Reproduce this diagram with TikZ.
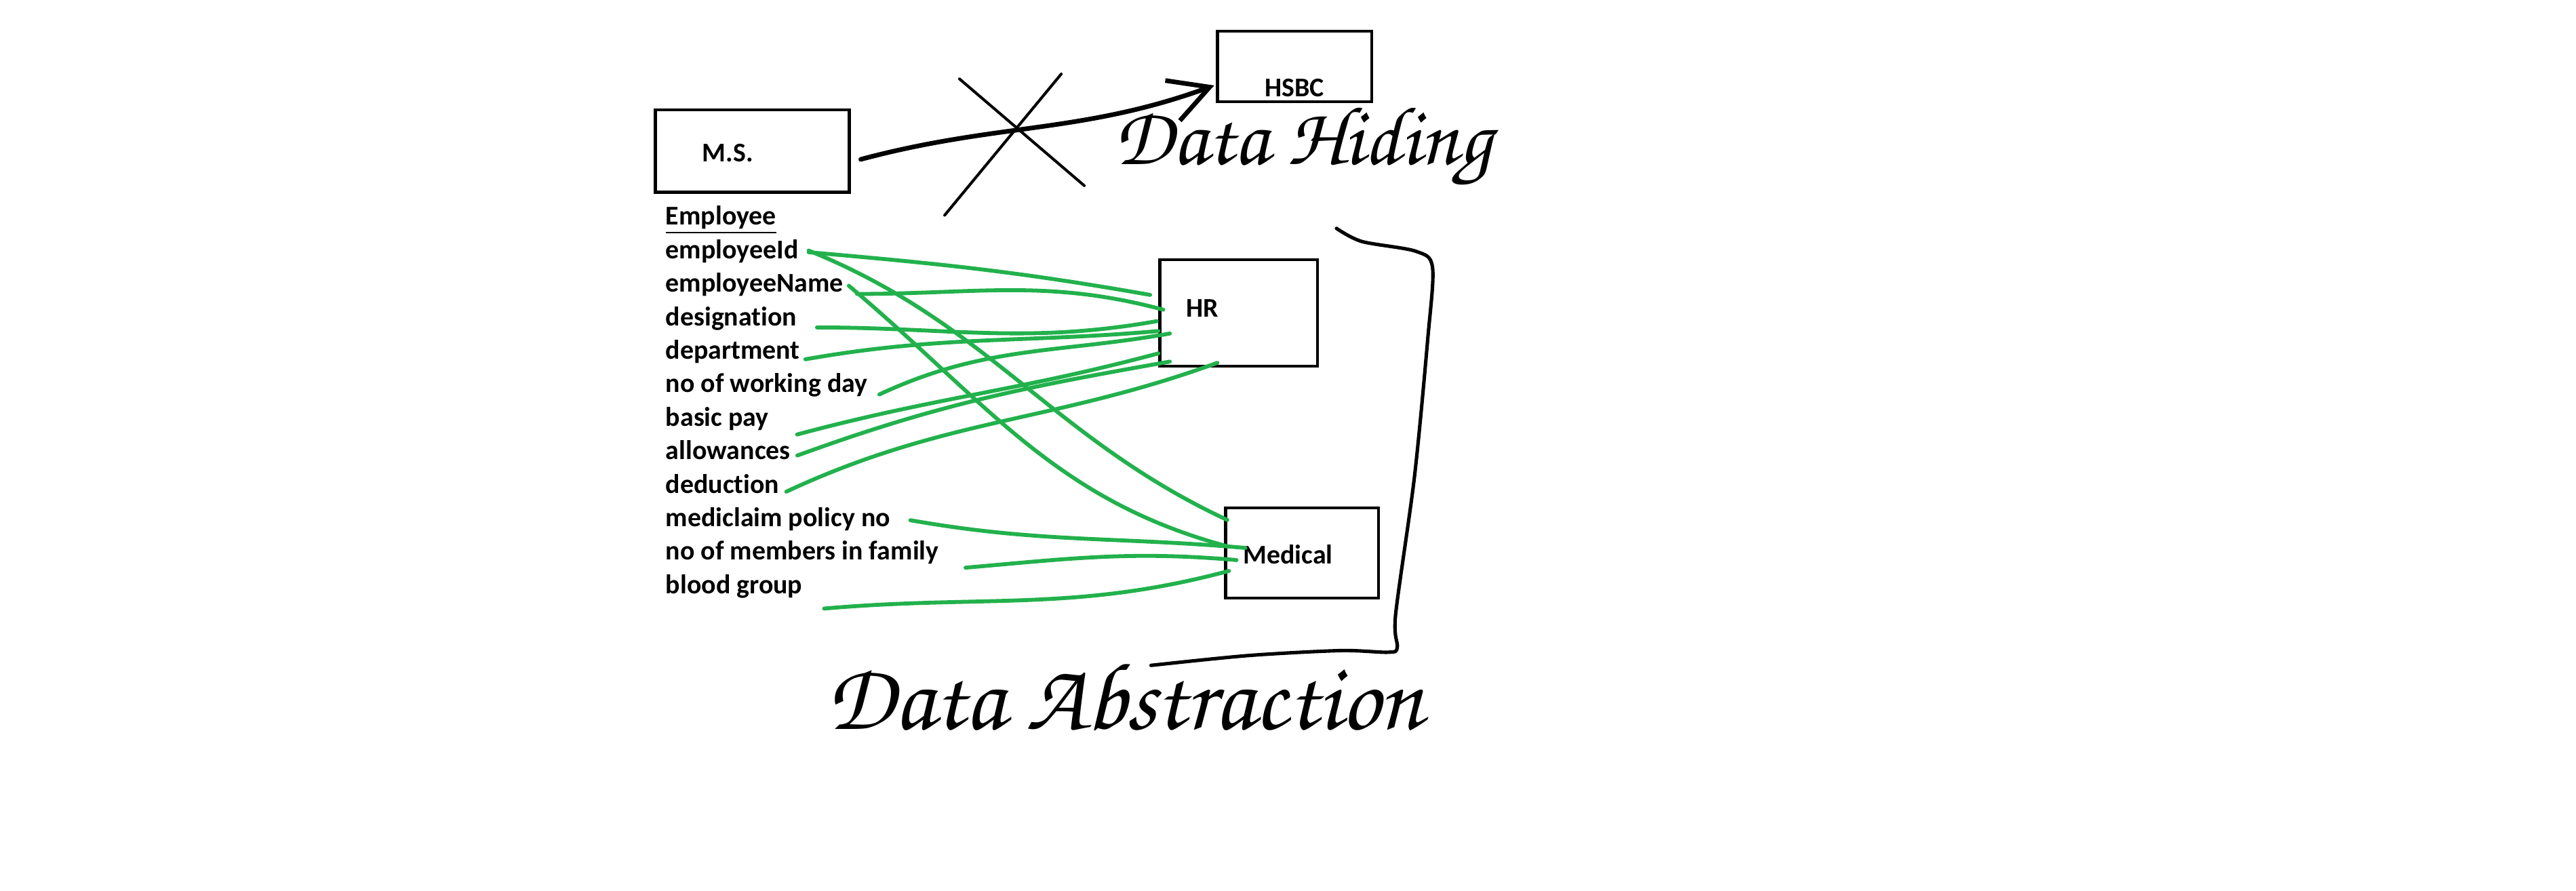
\documentclass[tikz,border=0pt]{standalone}
\usepackage{fontspec}
\setmainfont{Carlito}[BoldFont={Carlito Bold}, RawFeature=-liga]
\newfontfamily\handfont{texgyrechorus-mediumitalic.otf}
\usetikzlibrary{positioning,arrows.meta,calc}
\definecolor{paintgreen}{RGB}{34,177,76}

\begin{document}
\begin{tikzpicture}[
        x=0.025cm, y=-0.025cm,
        node distance=3.6pt,
        every node/.style={font=\fontsize{11.7}{14}\selectfont\bfseries},
        box/.style={draw, line width=1.3pt, inner sep=0pt},
        attr/.style={inner sep=0pt, text height=8pt, text depth=2.5pt},
        link/.style={paintgreen, line width=1.7pt, line cap=round},
        pen/.style={line width=1.5pt, line cap=round, line join=round},
        hand/.style={inner sep=0pt, anchor=base west, font=\handfont\fontsize{36}{40}\selectfont}
    ]
        \useasboundingbox (0,0) rectangle (1568,542);

        % Boxes: the banks and the departments
        \node[box, minimum width=2.35cm, text height=28.2pt, text depth=2.4pt] (hsbc) at (788,40.5) {HSBC};
        \node[box, minimum width=2.95cm, text height=22.5pt, text depth=13.1pt] (ms) at (458,92) {M.S.\hspace*{0.75cm}};
        \node[box, minimum width=2.4cm, text height=24.9pt, text depth=21.2pt] (hr) at (754,190.5) {HR\hspace*{1.1cm}};
        \node[box, minimum width=2.325cm, text height=24.4pt, text depth=14.6pt] (med) at (792.5,336.5) {Medical\hspace*{0.425cm}};

        % Employee and its attributes
        \node[attr, anchor=base west] (emp) at (405,137) {\underline{Employee}};
        \node[attr, below=of emp.south west, anchor=north west] (id) {employeeId};
        \node[attr, below=of id.south west, anchor=north west] (ename) {employeeName};
        \node[attr, below=of ename.south west, anchor=north west] (desig) {designation};
        \node[attr, below=of desig.south west, anchor=north west] (dept) {department};
        \node[attr, below=of dept.south west, anchor=north west] (wday) {no of working day};
        \node[attr, below=of wday.south west, anchor=north west] (bpay) {basic pay};
        \node[attr, below=of bpay.south west, anchor=north west] (allow) {allowances};
        \node[attr, below=of allow.south west, anchor=north west] (deduct) {deduction};
        \node[attr, below=of deduct.south west, anchor=north west] (mclaim) {mediclaim policy no};
        \node[attr, below=of mclaim.south west, anchor=north west] (members) {no of members in family};
        \node[attr, below=of members.south west, anchor=north west] (blood) {blood group};

        % Handwritten notes
        \node[hand] (hiding) at (678,100) {Data Hiding};
        \node[hand, font=\handfont\fontsize{41.5}{45}\selectfont] (abstr) at (503,444) {Data Abstraction};

        % M.S. to HSBC, crossed out
        \draw[pen, line width=2pt, -{Straight Barb[length=6mm, width=6.5mm]}] ([shift={(6,5)}]ms.east) to[out=15, in=200] ([shift={(-1,11.5)}]hsbc.west);
        \draw[pen, line width=1.2pt] (584,48) -- (660,113);
        \draw[pen, line width=1.2pt] (646,45) -- (575,131);

        % Attributes to HR
        \draw[link] ([shift={(6,0)}]id.east) to[out=-5, in=170] ([shift={(-5,-11)}]hr.west);
        \draw[link] ([shift={(8,5)}]ename.east) to[out=0, in=165] ([shift={(3,-2)}]hr.west);
        \draw[link] ([shift={(12,5)}]desig.east) to[out=0, in=190] ([shift={(-1,5)}]hr.west);
        \draw[link] ([shift={(3,4)}]dept.east) to[out=10, in=185] ([shift={(0,11)}]hr.west);
        \draw[link] ([shift={(7,5)}]wday.east) to[out=25, in=190] ([shift={(7,12.5)}]hr.west);
        \draw[link] ([shift={(17,9)}]bpay.east) to[out=15, in=195] ([shift={(0,24.6)}]hr.west);
        \draw[link] ([shift={(4,1.4)}]allow.east) to[out=20, in=190] ([shift={(7,29.6)}]hr.west);
        \draw[link] ([shift={(4,3)}]deduct.east) to[out=25, in=200] ([shift={(-13,-3)}]hr.south);

        % Attributes to Medical
        \draw[link] ([shift={(6,-1)}]id.east) to[out=-22, in=155] ([shift={(2,-20)}]med.west);
        \draw[link] ([shift={(3,0)}]ename.east) to[out=-40, in=165] ([shift={(2,-4)}]med.west);
        \draw[link] ([shift={(12,0)}]mclaim.east) to[out=-10, in=175] ([shift={(13,-3)}]med.west);
        \draw[link] ([shift={(16,8.5)}]members.east) to[out=5, in=175] ([shift={(7.6,4.4)}]med.west);
        \draw[link] ([shift={(13,13)}]blood.east) to[out=5, in=195] ([shift={(3,11)}]med.west);

        % Bracket round HR and Medical
        \draw[pen] plot[smooth, tension=0.5] coordinates {(813.5,139) (829,147) (862,153) (872,163) (869,207) (861,290) (849.5,374) (850.5,394) (845,397) (816,396) (760,399) (700.6,405)};

    \end{tikzpicture}
\end{document}
